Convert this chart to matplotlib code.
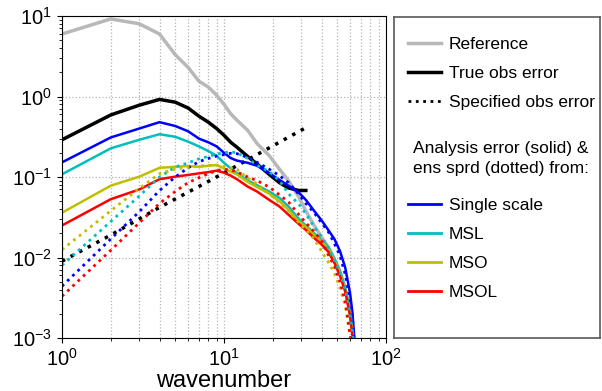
import numpy as np
import matplotlib
matplotlib.use('Agg')
import matplotlib.pyplot as plt
from matplotlib.lines import Line2D

plt.rcParams['font.family'] = ['Liberation Sans', 'DejaVu Sans']
plt.rcParams['mathtext.fontset'] = 'custom'
plt.rcParams['mathtext.rm'] = 'Liberation Sans'
plt.rcParams['mathtext.it'] = 'Liberation Sans:italic'
plt.rcParams['mathtext.bf'] = 'Liberation Sans:bold'

# wavenumbers
k = [1, 2, 3, 4, 5, 6, 7, 8, 9, 10, 11, 12, 14, 16, 19, 22, 25, 29, 32,
     36, 40, 44, 48, 52, 56, 60, 62, 64]

reference = [5.97, 9.2, 8.0, 5.97, 3.3, 2.3, 1.55, 1.31, 1.04, 0.80, 0.61, 0.51,
             0.38, 0.26, 0.185, 0.125, 0.09, 0.056, 0.038,
             0.025, 0.018, 0.0135, 0.0095, 0.0066, 0.0041, 0.0021, 0.0012, 0.0006]

# true obs error stops at k=32
true_obs = [0.29, 0.59, 0.78, 0.92, 0.85, 0.72, 0.57, 0.48, 0.40, 0.33, 0.27, 0.235,
            0.18, 0.145, 0.108, 0.085, 0.073, 0.068, 0.068]

k_spec = [1, 2, 4, 8, 16, 32]
spec_obs = [0.009, 0.019, 0.042, 0.088, 0.19, 0.41]

# analysis error (solid)
err_single = [0.152, 0.31, 0.40, 0.48, 0.43, 0.37, 0.30, 0.27, 0.24, 0.20, 0.172, 0.16,
              0.15, 0.138, 0.112, 0.092, 0.078, 0.064, 0.052,
              0.038, 0.029, 0.022, 0.017, 0.012, 0.0075, 0.0036, 0.0021, 0.0009]
err_msl = [0.108, 0.227, 0.29, 0.34, 0.316, 0.275, 0.24, 0.21, 0.184, 0.15, 0.128, 0.112,
           0.091, 0.079, 0.066, 0.055, 0.043, 0.030, 0.025,
           0.020, 0.0165, 0.0135, 0.0097, 0.0068, 0.0042, 0.0022, 0.0013, 0.0007]
err_mso = [0.036, 0.078, 0.101, 0.13, 0.134, 0.137, 0.134, 0.138, 0.141, 0.128, 0.116, 0.108,
           0.087, 0.075, 0.062, 0.050, 0.039, 0.028, 0.024,
           0.019, 0.0158, 0.0128, 0.0092, 0.0064, 0.004, 0.002, 0.0012, 0.0006]
err_msol = [0.025, 0.053, 0.070, 0.094, 0.101, 0.106, 0.111, 0.115, 0.12, 0.113, 0.104, 0.094,
            0.076, 0.066, 0.052, 0.043, 0.034, 0.026, 0.022,
            0.0175, 0.0145, 0.0118, 0.0086, 0.0059, 0.0038, 0.0019, 0.0011, 0.0006]

# ensemble spread (dotted)
sprd_single = [0.0044, 0.017, 0.037, 0.068, 0.10, 0.13, 0.155, 0.17, 0.182, 0.19, 0.197, 0.195,
               0.175, 0.152, 0.125, 0.104, 0.085, 0.061, 0.047,
               0.036, 0.027, 0.021, 0.015, 0.0105, 0.0062, 0.003, 0.0019, 0.0008]
sprd_msl = [0.008, 0.028, 0.058, 0.10, 0.133, 0.15, 0.168, 0.18, 0.193, 0.2, 0.205, 0.2,
            0.17, 0.14, 0.117, 0.09, 0.062, 0.046, 0.035,
            0.024, 0.018, 0.013, 0.0093, 0.0063, 0.0039, 0.002, 0.0012, 0.0006]
sprd_mso = [0.0125, 0.038, 0.072, 0.11, 0.125, 0.132, 0.136, 0.14, 0.14, 0.135, 0.13, 0.125,
            0.097, 0.082, 0.062, 0.048, 0.038, 0.027, 0.022,
            0.017, 0.012, 0.0088, 0.0064, 0.0042, 0.0025, 0.0011, 0.0007, 0.0005]
sprd_msol = [0.0033, 0.0123, 0.027, 0.047, 0.066, 0.085, 0.098, 0.11, 0.12, 0.125, 0.122, 0.116,
             0.1, 0.09, 0.075, 0.06, 0.049, 0.034, 0.027,
             0.021, 0.016, 0.0108, 0.0078, 0.005, 0.0029, 0.0011, 0.0008, 0.0006]

names = ['Single scale', 'MSL', 'MSO', 'MSOL']
colors = ['b', 'c', 'y', 'r']
errs = [err_single, err_msl, err_mso, err_msol]
sprds = [sprd_single, sprd_msl, sprd_mso, sprd_msol]

fig = plt.figure(figsize=(6.02, 3.91), dpi=100)
ax = fig.add_axes([62/602, 53/391, 324/602, 322/391])

ax.loglog(k, reference, color='0.72', lw=2.5)
ax.loglog(k[:len(true_obs)], true_obs, color='k', lw=2.5)
ax.loglog(k_spec, spec_obs, color='k', lw=2.5, ls=(0, (1, 1.8)))
for c, e in zip(colors, errs):
    ax.loglog(k, e, color=c, lw=1.8)
for c, s in zip(colors, sprds):
    ax.loglog(k, s, color=c, lw=2, ls=(0, (1, 1.6)))

ax.set_xlim(1, 100)
ax.set_ylim(1e-3, 10)
ax.grid(True, which='major', ls=':', color='0.7', lw=0.9)
ax.xaxis.grid(True, which='minor', ls=':', color='0.7', lw=0.9)
ax.tick_params(labelsize=14.5)
ax.set_xlabel('wavenumber', fontsize=17, labelpad=0)

# legend panel
lax = fig.add_axes([394/602, 53/391, 206/602, 321/391])
lax.set_xticks([])
lax.set_yticks([])
for sp in lax.spines.values():
    sp.set_color('0.35')
    sp.set_linewidth(1.2)

h1 = [Line2D([], [], color='0.72', lw=2.5),
      Line2D([], [], color='k', lw=2.5),
      Line2D([], [], color='k', lw=2, ls=':')]
leg1 = lax.legend(h1, ['Reference', 'True obs error', 'Specified obs error'],
                  loc='upper left', bbox_to_anchor=(0.068, 0.938), frameon=False,
                  fontsize=12.5, handlelength=1.9, handletextpad=0.45,
                  labelspacing=0.81, borderpad=0, borderaxespad=0)
lax.add_artist(leg1)

lax.text(0.092, 0.56, 'Analysis error (solid) &\nens sprd (dotted) from:',
         transform=lax.transAxes, fontsize=12.5, va='center', ha='left',
         linespacing=1.45)

h2 = [Line2D([], [], color=c, lw=2) for c in colors]
lax.legend(h2, names, loc='upper left', bbox_to_anchor=(0.068, 0.4375), frameon=False,
           fontsize=12.5, handlelength=1.9, handletextpad=0.45,
           labelspacing=0.81, borderpad=0, borderaxespad=0)

fig.savefig('out.png', dpi=100)
